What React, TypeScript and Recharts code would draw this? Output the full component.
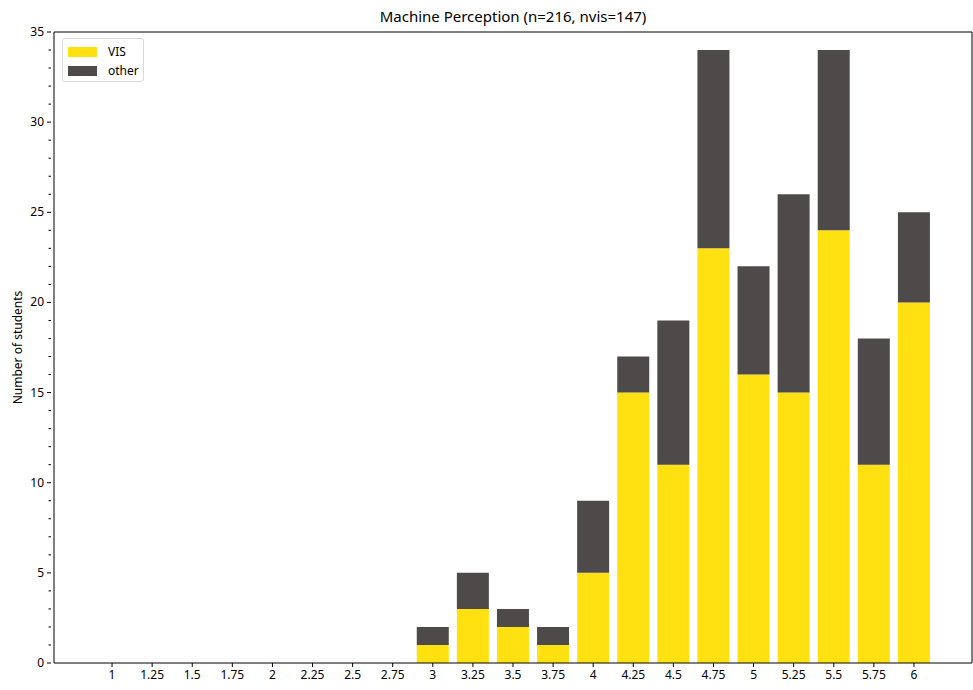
import React from 'react';
import { BarChart, Bar, XAxis, YAxis, ReferenceLine } from 'recharts';

const categories = ['1', '1.25', '1.5', '1.75', '2', '2.25', '2.5', '2.75', '3', '3.25', '3.5', '3.75', '4', '4.25', '4.5', '4.75', '5', '5.25', '5.5', '5.75', '6'];
const visValues = [0, 0, 0, 0, 0, 0, 0, 0, 1, 3, 2, 1, 5, 15, 11, 23, 16, 15, 24, 11, 20];
const otherValues = [0, 0, 0, 0, 0, 0, 0, 0, 1, 2, 1, 1, 4, 2, 8, 11, 6, 11, 10, 7, 5];
const yTicks = Array.from({ length: 36 }, (_, i) => i);
const legendItems = [
  { name: 'VIS', key: 'VIS' },
  { name: 'other', key: 'other' },
];

const data = categories.map((c, i) => ({ x: c, VIS: visValues[i], other: otherValues[i] }));

const YELLOW = '#ffe111';
const GRAY = '#4e4a4a';
const COLORS: Record<string, string> = { VIS: YELLOW, other: GRAY };
const FONT = '"Noto Sans", sans-serif';

const YTick = (props: any) => {
  const { x, y, payload } = props;
  const major = payload.value % 5 === 0;
  const len = major ? 4 : 2.5;
  return (
    <g>
      <line x1={x + 5 - len} x2={x + 5} y1={y} y2={y} stroke="#000" strokeWidth={1} />
      {major && (
        <text x={x - 2} y={y} dy={4} textAnchor="end" fontSize={12} fontFamily={FONT} fill="#000">
          {payload.value}
        </text>
      )}
    </g>
  );
};

export default function App() {
  return (
    <div style={{ position: 'absolute', left: 0, top: 0, width: 973, height: 690, background: '#fff' }}>
      <div style={{ position: 'absolute', top: 6, left: 54, width: 918, textAlign: 'center', fontFamily: FONT, fontSize: 15 }}>
        Machine Perception (n=216, nvis=147)
      </div>
      <BarChart width={973} height={690} data={data} margin={{ top: 32, right: 0, bottom: 0, left: 14 }} barCategoryGap="10%">
        <XAxis
          dataKey="x"
          type="category"
          padding={{ left: 38, right: 38 }}
          height={27}
          tickSize={4}
          tickMargin={3}
          interval={0}
          tick={{ fontSize: 12, fontFamily: FONT, fill: '#000' }}
          axisLine={{ stroke: '#000' }}
          tickLine={{ stroke: '#000' }}
        />
        <YAxis
          domain={[0, 35]}
          ticks={yTicks}
          interval={0}
          width={40}
          tickLine={false}
          tick={<YTick />}
          axisLine={{ stroke: '#000' }}
          label={{ value: 'Number of students', angle: -90, position: 'insideLeft', offset: 4, style: { fontSize: 12, fontFamily: FONT, fill: '#000', textAnchor: 'middle' } }}
        />
        <YAxis yAxisId="right" orientation="right" width={1} tick={false} tickLine={false} axisLine={{ stroke: '#000' }} />
        <Bar dataKey="VIS" stackId="a" fill={YELLOW} isAnimationActive={false} />
        <Bar dataKey="other" stackId="a" fill={GRAY} isAnimationActive={false} />
        <ReferenceLine y={35} stroke="#000" strokeWidth={1} />
      </BarChart>
      <div style={{ position: 'absolute', top: 38, left: 62, width: 82, height: 44, boxSizing: 'border-box', border: '1px solid #d9d9d9', borderRadius: 3, background: '#fff', fontFamily: FONT, fontSize: 12, paddingTop: 3, paddingLeft: 5 }}>
        {legendItems.map((it) => (
          <div key={it.key} style={{ display: 'flex', alignItems: 'center', height: 19 }}>
            <div style={{ width: 29, height: 10, background: COLORS[it.key], marginRight: 11 }} />
            <span>{it.name}</span>
          </div>
        ))}
      </div>
    </div>
  );
}
